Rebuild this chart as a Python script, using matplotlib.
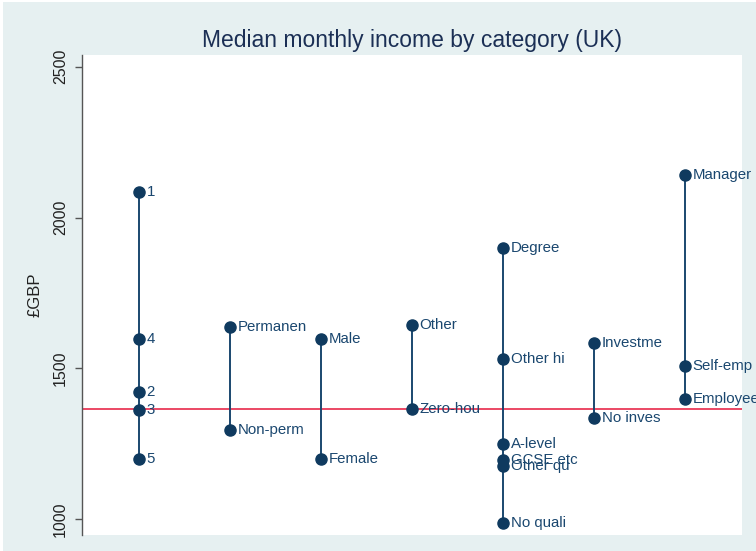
import matplotlib.pyplot as plt
from matplotlib.patches import Rectangle

plt.rcParams['font.family'] = ['Liberation Sans', 'DejaVu Sans']

# median monthly income (GBP) per category, grouped
quintile_labels = ["1", "4", "2", "3", "5"]
quintile_values = [2085, 1597, 1421, 1362, 1199]

contract_labels = ["Permanen", "Non-perm"]
contract_values = [1637, 1295]

sex_labels = ["Male", "Female"]
sex_values = [1597, 1199]

hours_labels = ["Other", "Zero-hou"]
hours_values = [1644, 1365]

educ_labels = ["Degree", "Other hi", "A-level", "GCSE etc", "Other qu", "No quali"]
educ_values = [1899, 1531, 1249, 1196, 1176, 987]

invest_labels = ["Investme", "No inves"]
invest_values = [1584, 1335]

job_labels = ["Manager", "Self-emp", "Employee"]
job_values = [2141, 1508, 1398]

overall_median = 1365

groups = [
    (quintile_labels, quintile_values),
    (contract_labels, contract_values),
    (sex_labels, sex_values),
    (hours_labels, hours_values),
    (educ_labels, educ_values),
    (invest_labels, invest_values),
    (job_labels, job_values),
]

navy = "#1a476f"
dark = "#0f3a5f"
bg = "#e6f0f1"

fig = plt.figure(figsize=(7.56, 5.51), dpi=100, facecolor="white")
fig.patches.append(Rectangle((3 / 756, 0), 1, 1 - 2 / 551, transform=fig.transFigure,
                             facecolor=bg, edgecolor="none", zorder=-10))
ax = fig.add_axes([82 / 756, 1 - 535 / 551, 660 / 756, 480 / 551])
ax.set_facecolor("white")

for i, (labels, values) in enumerate(groups):
    x = i + 1
    ax.plot([x, x], [min(values), max(values)], color=navy, lw=1.4, zorder=2)
    ax.plot([x] * len(values), values, "o", color=dark, ms=8, zorder=3)
    for lab, v in zip(labels, values):
        ax.annotate(lab, (x, v), xytext=(5.5, 0), textcoords="offset points",
                    va="center", ha="left", fontsize=10.8, color=navy,
                    annotation_clip=False, zorder=4)

ax.axhline(overall_median, color="#e8294a", lw=1.2, zorder=1)

ax.set_xlim(0.374, 7.626)
ax.set_ylim(947, 2539)
ax.set_yticks([1000, 1500, 2000, 2500])
ax.set_xticks([])
for s in ["top", "right", "bottom"]:
    ax.spines[s].set_visible(False)
ax.spines["left"].set_color("#555555")
ax.spines["left"].set_linewidth(1.0)
ax.tick_params(axis="y", length=5, width=1.0, color="#555555", pad=5,
               labelsize=11.5, labelcolor="#222222")
for t in ax.get_yticklabels():
    t.set_rotation(90)
    t.set_va("center")
ax.set_ylabel("£GBP", fontsize=12, color="#222222", labelpad=8)
ax.set_title("Median monthly income by category (UK)", fontsize=16.5,
             color="#1b2f55", pad=6)

fig.savefig("out.png", dpi=100, facecolor=fig.get_facecolor())
